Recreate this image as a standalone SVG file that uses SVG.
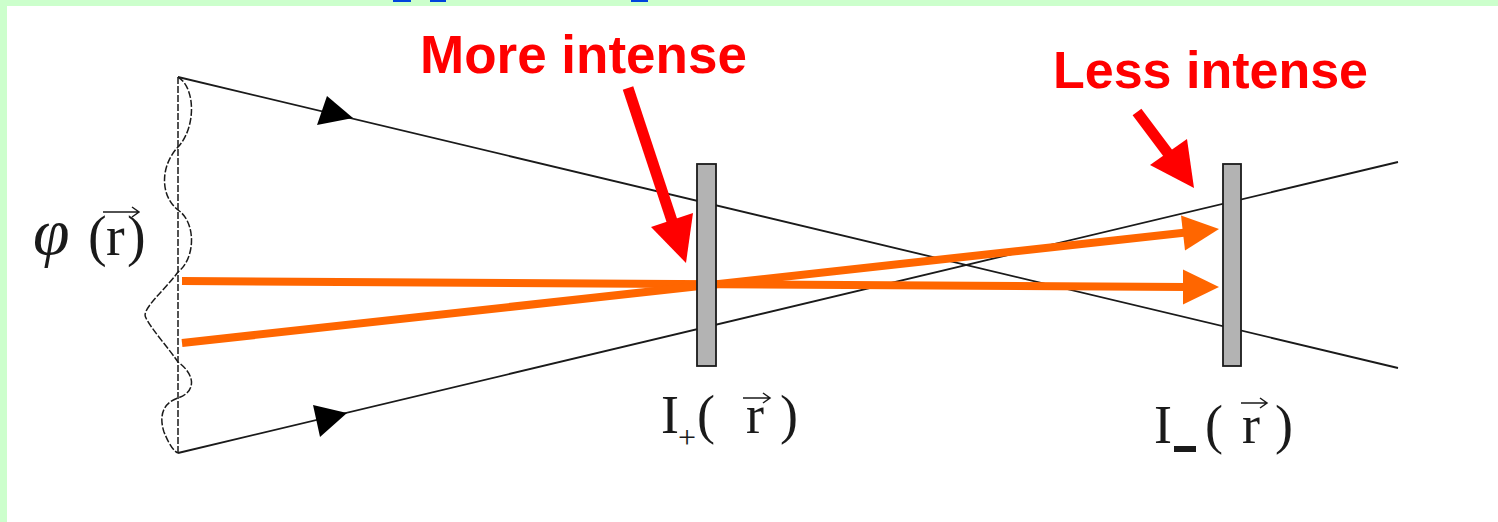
<svg xmlns="http://www.w3.org/2000/svg" width="1498" height="522" viewBox="0 0 1498 522">
<style>
.ray{stroke:#1a1a1a;stroke-width:1.8;fill:none}
.dash{stroke:#1a1a1a;stroke-width:1.5;fill:none;stroke-dasharray:7 2}
.head{fill:#000}
.plate{fill:#b3b3b3;stroke:#1a1a1a;stroke-width:1.8}
.orange{stroke:#ff6600;stroke-width:8;fill:none}
.ohead{fill:#ff6600}
.red{stroke:#ff0000;stroke-width:11;fill:none}
.rhead{fill:#ff0000}
.lbl{font-family:"Liberation Sans",Arial,sans-serif;font-weight:bold;fill:#ff0000}
.math{font-family:"Liberation Serif","Times New Roman",serif;fill:#1a1a1a}
.vec{stroke:#1a1a1a;stroke-width:1.5;fill:none}
</style>
<rect x="0" y="0" width="1498" height="522" fill="#ccffcc"/>
<rect x="7" y="6" width="1491" height="516" fill="#ffffff"/>
<g id="top-links" fill="#0044dd">
<rect x="393" y="0" width="18" height="2"/>
<rect x="430" y="0" width="16" height="2"/>
<rect x="631" y="0" width="17" height="2"/>
</g>
<g id="source">
<line class="dash" x1="178" y1="77" x2="178" y2="453"/>
<path class="dash" d="M178,77 C196,88 196,128 178,147 C160,166 160,196 178,210 C196,222 196,258 178,272 C165,290 140,310 146,318 C152,330 170,350 178,362 C196,375 196,392 178,398 C160,404 160,420 164,432 C170,447 175,452 178,453"/>
<text class="math" x="33" y="254" font-size="66" font-style="italic">φ</text>
<text class="math" x="88" y="255" font-size="56">(</text>
<text class="math" x="106" y="255" font-size="56">r</text>
<text class="math" x="127" y="255" font-size="56">)</text>
<path class="vec" d="M103,212 H139 M132,207 L139,212 L132,217"/>
</g>
<g id="connectors">
<line class="ray" x1="178" y1="77" x2="1398" y2="368"/>
<line class="ray" x1="178" y1="453" x2="1398" y2="162"/>
<polygon class="head" points="353,118 317,125 327,96"/>
<polygon class="head" points="347,413 313,405 320,437"/>
<line class="orange" x1="182" y1="281" x2="1186" y2="287"/>
<polygon class="ohead" points="1219,287 1183,269.5 1183,304.5"/>
<line class="orange" x1="182" y1="343" x2="1186" y2="232.5"/>
<polygon class="ohead" points="1219,229 1185,250.5 1181,215.5"/>
<line class="red" x1="628" y1="88" x2="673" y2="224"/>
<polygon class="rhead" points="686,263 651,227 693,213"/>
<line class="red" x1="1137" y1="112" x2="1170" y2="156"/>
<polygon class="rhead" points="1194,188 1150,165 1187,139"/>
</g>
<g id="plate-plus">
<rect class="plate" x="697" y="164" width="19" height="202"/>
<text class="math" x="661" y="433" font-size="54">I</text>
<text class="math" x="678" y="448" font-size="32">+</text>
<text class="math" x="697" y="433" font-size="54">(</text>
<text class="math" x="746" y="433" font-size="54">r</text>
<text class="math" x="780" y="433" font-size="54">)</text>
<path class="vec" d="M743,398 H770 M763,393 L770,398 L763,403"/>
</g>
<g id="plate-minus">
<rect class="plate" x="1223" y="164" width="18" height="202"/>
<text class="math" x="1154" y="443" font-size="54">I</text>
<rect x="1174" y="446" width="22" height="6" fill="#1a1a1a"/>
<text class="math" x="1205" y="443" font-size="54">(</text>
<text class="math" x="1242" y="443" font-size="54">r</text>
<text class="math" x="1275" y="443" font-size="54">)</text>
<path class="vec" d="M1241,403 H1267 M1260,398 L1267,403 L1260,408"/>
</g>
<g id="label-more">
<text class="lbl" x="420" y="73" font-size="53">More intense</text>
</g>
<g id="label-less">
<text class="lbl" x="1053" y="88" font-size="52">Less intense</text>
</g>
</svg>
